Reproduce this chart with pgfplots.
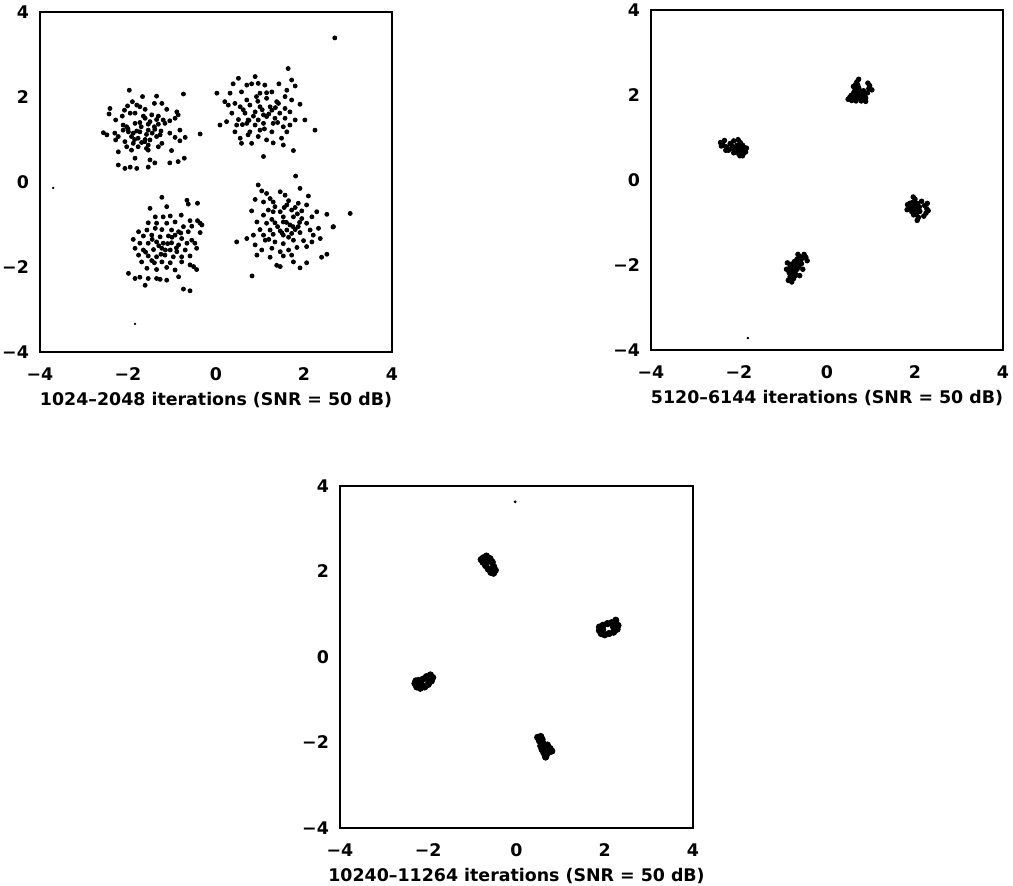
\documentclass[border=0pt]{standalone}
\usepackage{fontspec}
\setmainfont{DejaVu Sans}
\usepackage{pgfplots}
\pgfplotsset{compat=1.18}

\pgfplotsset{
  constel/.style={
    scale only axis, width=176pt, height=170pt,
    xmin=-4, xmax=4, ymin=-4, ymax=4,
    xtick={-4,-2,0,2,4}, ytick={-4,-2,0,2,4},
    xticklabels={−4,−2,0,2,4}, yticklabels={−4,−2,0,2,4},
    major tick length=0pt,
    axis line style={line width=0.9pt},
    font=\fontsize{8.7}{10}\selectfont\bfseries,
    xticklabel style={yshift=-4.5pt},
    yticklabel style={xshift=-2pt},
    xlabel style={at={(axis description cs:0.5,0)}, anchor=north, yshift=-16.5pt},
  },
  dots/.style={only marks, mark=*, black, mark size=1pt},
}

\begin{document}
\begin{tikzpicture}
\path[use as bounding box] (0pt,0pt) rectangle (506.5pt,442.5pt);

% 1024-2048 iterations
\begin{axis}[constel, at={(20pt,266.5pt)}, anchor=south west,
  xlabel={1024–2048 iterations (SNR = 50 dB)}]
\addplot[dots] coordinates {
(-1.97,2.16) (-1.35,2.02) (-0.74,2.07) (-1.67,2.01) (-1.90,1.89) (-1.80,1.81)
(-1.40,1.85) (-1.23,1.85) (-2.01,1.79) (-1.73,1.77) (-2.41,1.73) (-2.08,1.69)
(-1.95,1.62) (-1.61,1.71) (-1.12,1.71) (-0.89,1.65) (-2.43,1.60) (-2.13,1.55)
(-1.84,1.62) (-1.65,1.55) (-1.46,1.58) (-1.31,1.55) (-0.86,1.58) (-2.28,1.46)
(-1.61,1.50) (-1.35,1.47) (-1.20,1.46) (-1.05,1.44) (-0.93,1.50) (-2.11,1.34)
(-2.03,1.30) (-1.84,1.38) (-1.73,1.40) (-1.54,1.36) (-1.31,1.36) (-1.16,1.38)
(-2.56,1.16) (-2.30,1.15) (-2.11,1.22) (-1.99,1.18) (-1.88,1.15) (-1.73,1.18)
(-1.54,1.22) (-1.39,1.24) (-1.27,1.11) (-1.05,1.15) (-0.82,1.22) (-0.36,1.13)
(-2.48,1.11) (-2.22,1.07) (-1.92,1.07) (-1.77,1.03) (-1.61,1.00) (-1.50,0.99)
(-1.35,1.07) (-0.93,1.05) (-0.70,1.05) (-2.28,0.99) (-2.07,0.95) (-1.88,0.91)
(-1.69,0.93) (-1.54,0.87) (-1.23,0.91) (-0.82,0.97) (-2.03,0.83) (-1.77,0.83)
(-1.58,0.79) (-1.31,0.83) (-2.22,0.71) (-1.92,0.75) (-1.54,0.75) (-1.01,0.74)
(-1.84,0.56) (-1.50,0.52) (-1.39,0.45) (-1.05,0.45) (-0.86,0.48) (-0.72,0.56)
(-2.22,0.40) (-2.07,0.32) (-1.95,0.35) (-1.80,0.32) (-1.54,0.35)
(-1.70,1.30) (-1.58,1.12) (-1.45,1.15) (-1.62,0.95) (-1.80,1.20) (-2.00,1.25)
(-1.40,1.30) (-1.50,1.42) (-1.25,1.20) (-1.85,1.00)
};
\addplot[dots] coordinates {
(1.64,2.67) (0.51,2.44) (0.89,2.48) (1.72,2.40) (0.39,2.31) (0.70,2.28)
(0.81,2.31) (0.96,2.32) (1.11,2.28) (1.43,2.31) (1.80,2.26) (0.02,2.09)
(0.32,2.09) (0.58,2.12) (1.00,2.09) (1.15,2.10) (1.27,2.12) (1.61,2.16)
(0.20,1.89) (0.43,1.85) (0.70,1.93) (0.92,2.01) (1.15,1.97) (1.38,1.89)
(1.57,2.01) (1.72,1.93) (1.91,1.83) (0.28,1.81) (0.55,1.77) (0.77,1.81)
(1.00,1.77) (1.23,1.77) (1.42,1.85) (1.57,1.73) (0.36,1.62) (0.66,1.62)
(0.89,1.65) (1.08,1.58) (1.27,1.69) (1.45,1.62) (1.68,1.65) (0.51,1.47)
(0.73,1.46) (0.96,1.46) (1.15,1.54) (1.34,1.50) (1.57,1.50) (1.80,1.46)
(2.02,1.46) (0.09,1.34) (0.24,1.42) (0.47,1.34) (0.70,1.38) (0.89,1.34)
(1.08,1.38) (1.30,1.38) (1.53,1.30) (1.68,1.34) (2.25,1.22) (0.43,1.18)
(0.77,1.18) (1.00,1.22) (1.27,1.18) (1.61,1.18) (0.55,1.03) (0.73,1.11)
(0.96,1.07) (1.15,0.99) (1.49,1.03) (0.58,0.91) (0.81,0.91) (1.30,0.92)
(1.53,0.87) (1.08,0.60) (1.76,0.74)
(0.62,1.70) (0.85,1.55) (1.05,1.70) (1.20,1.60) (0.95,1.90) (1.35,1.75)
(0.75,1.45) (1.10,1.25) (1.40,1.40) (0.60,1.35)
};
\addplot[dots] coordinates {
(-1.23,-0.36) (-0.66,-0.43) (-0.63,-0.52) (-0.42,-0.50) (-1.50,-0.62) (-1.12,-0.58)
(-0.79,-0.78) (-1.38,-0.82) (-1.20,-0.82) (-1.04,-0.80) (-0.59,-0.91) (-0.42,-0.91)
(-0.36,-0.97) (-1.54,-0.96) (-1.35,-0.97) (-1.12,-0.97) (-0.93,-0.94) (-0.74,-1.05)
(-0.55,-1.04) (-0.32,-1.01) (-1.76,-1.17) (-1.57,-1.13) (-1.38,-1.09) (-1.23,-1.12)
(-1.01,-1.13) (-0.85,-1.17) (-0.63,-1.17) (-0.36,-1.19) (-1.88,-1.35) (-1.65,-1.27)
(-1.46,-1.25) (-1.27,-1.29) (-1.08,-1.27) (-0.93,-1.25) (-0.78,-1.33) (-0.55,-1.37)
(-1.73,-1.44) (-1.54,-1.44) (-1.35,-1.41) (-1.20,-1.44) (-1.01,-1.43) (-0.85,-1.48)
(-0.66,-1.44) (-0.48,-1.44) (-1.84,-1.56) (-1.65,-1.60) (-1.42,-1.59) (-1.23,-1.56)
(-1.04,-1.60) (-0.89,-1.64) (-0.70,-1.60) (-0.44,-1.56) (-1.76,-1.72) (-1.54,-1.74)
(-1.35,-1.76) (-1.16,-1.72) (-0.97,-1.76) (-0.78,-1.76) (-0.59,-1.74) (-1.69,-1.88)
(-1.46,-1.85) (-1.23,-1.88) (-1.04,-1.90) (-0.78,-1.88) (-0.59,-1.95) (-1.57,-2.03)
(-1.35,-2.06) (-1.12,-2.01) (-0.93,-2.07) (-0.51,-1.99) (-0.44,-2.06) (-1.99,-2.15)
(-1.84,-2.27) (-1.73,-2.24) (-1.54,-2.27) (-1.35,-2.27) (-1.27,-2.29) (-1.12,-2.31)
(-0.85,-2.23) (-1.61,-2.43) (-0.74,-2.52) (-0.59,-2.56)
(-1.30,-1.50) (-1.15,-1.60) (-1.45,-1.35) (-1.00,-1.30) (-1.25,-1.70) (-0.90,-1.55)
(-1.60,-1.65) (-1.10,-1.45) (-0.80,-1.20) (-1.40,-1.90)
};
\addplot[dots] coordinates {
(1.81,0.14) (0.96,-0.07) (1.91,-0.15) (1.04,-0.21) (1.15,-0.27) (1.46,-0.23)
(1.57,-0.31) (1.23,-0.39) (2.10,-0.33) (0.89,-0.41) (1.08,-0.47) (1.30,-0.47)
(1.65,-0.44) (1.87,-0.50) (1.34,-0.58) (1.61,-0.54) (1.80,-0.60) (2.06,-0.54)
(0.81,-0.68) (1.19,-0.66) (1.46,-0.70) (1.72,-0.66) (1.95,-0.68) (2.29,-0.70)
(2.52,-0.76) (3.05,-0.74) (1.08,-0.78) (1.27,-0.88) (1.53,-0.82) (1.76,-0.82)
(1.95,-0.86) (2.18,-0.82) (0.93,-0.94) (1.15,-0.97) (1.34,-0.96) (1.53,-0.94)
(1.68,-1.01) (1.87,-1.05) (2.06,-0.97) (2.67,-1.05) (1.00,-1.12) (1.23,-1.13)
(1.46,-1.15) (1.61,-1.13) (1.80,-1.12) (2.14,-1.13) (2.33,-1.09) (0.47,-1.41)
(0.70,-1.33) (0.85,-1.25) (1.08,-1.25) (1.30,-1.23) (1.53,-1.25) (1.72,-1.21)
(1.91,-1.19) (2.21,-1.25) (2.37,-1.33) (0.89,-1.48) (1.12,-1.37) (1.34,-1.41)
(1.53,-1.45) (1.76,-1.37) (1.99,-1.38) (2.18,-1.41) (1.04,-1.60) (1.27,-1.56)
(1.46,-1.64) (1.65,-1.60) (1.84,-1.54) (2.06,-1.52) (0.93,-1.72) (1.23,-1.77)
(1.53,-1.74) (1.72,-1.72) (2.52,-1.70) (1.38,-1.96) (1.46,-1.99) (1.76,-1.88)
(2.06,-1.90) (1.91,-2.02) (2.40,-1.77)
(1.40,-1.05) (1.60,-0.95) (1.50,-1.20) (1.75,-1.05) (1.30,-0.70) (1.55,-0.60)
(1.85,-0.75) (1.20,-1.35) (1.65,-1.30) (1.90,-0.95)
};
\addplot[dots] coordinates {(2.70,3.39) (0.82,-2.21) (2.66,-1.06)};
\addplot[only marks, mark=*, black, mark size=0.35pt] coordinates {(-3.70,-0.14) (-1.84,-3.34)};
\end{axis}

% 5120-6144 iterations
\begin{axis}[constel, at={(325.5pt,267.5pt)}, anchor=south west,
  xlabel={5120–6144 iterations (SNR = 50 dB)}]
\addplot[dots, mark size=1.15pt] coordinates {
(0.52,1.95) (0.58,1.93) (0.64,1.92) (0.70,1.93) (0.76,1.92) (0.82,1.94) (0.88,1.93)
(0.55,1.99) (0.61,1.98) (0.67,1.99) (0.73,1.98) (0.79,1.99) (0.85,1.98)
(0.60,2.04) (0.66,2.05) (0.72,2.04) (0.78,2.05) (0.63,2.10) (0.69,2.11) (0.75,2.10)
(0.66,2.17) (0.72,2.17) (0.64,2.24) (0.70,2.23) (0.68,2.31) (0.72,2.37)
(0.92,2.05) (0.95,2.15) (0.97,2.22) (0.93,2.28) (1.02,2.12) (0.56,1.87)
(0.66,1.86) (0.78,1.86) (0.88,1.85) (0.48,1.90) (0.83,2.10) (0.60,2.20)
};
\addplot[dots, mark size=1.15pt] coordinates {
(-2.10,0.70) (-2.04,0.68) (-1.98,0.70) (-1.92,0.69) (-1.86,0.71) (-2.07,0.76)
(-2.01,0.75) (-1.95,0.76) (-1.89,0.77) (-2.04,0.82) (-1.98,0.83) (-1.92,0.82)
(-2.01,0.62) (-1.95,0.62) (-1.89,0.63) (-1.98,0.57) (-1.92,0.57) (-1.83,0.75)
(-2.12,0.64) (-1.97,0.88) (-1.85,0.66)
(-2.42,0.88) (-2.36,0.82) (-2.33,0.93) (-2.28,0.78) (-2.24,0.70) (-2.20,0.86)
(-2.17,0.74) (-2.30,0.70) (-2.15,0.80) (-2.40,0.80) (-2.12,0.92) (-2.02,0.95)
};
\addplot[dots, mark size=1.15pt] coordinates {
(1.88,-0.55) (1.94,-0.53) (2.00,-0.56) (2.06,-0.55) (1.86,-0.62) (1.92,-0.61)
(1.98,-0.62) (2.04,-0.61) (2.10,-0.63) (1.90,-0.68) (1.96,-0.68) (2.02,-0.69)
(2.08,-0.68) (1.93,-0.75) (1.99,-0.75) (2.05,-0.76) (2.11,-0.74) (1.97,-0.82)
(2.03,-0.82) (2.00,-0.45) (1.96,-0.40) (1.83,-0.58) (2.08,-0.88) (2.05,-0.95)
(2.22,-0.60) (2.27,-0.68) (2.25,-0.78) (2.30,-0.72) (2.20,-0.85) (2.28,-0.55)
(1.82,-0.70) (2.15,-0.50)
};
\addplot[dots, mark size=1.15pt] coordinates {
(-0.62,-1.80) (-0.56,-1.84) (-0.68,-1.86) (-0.60,-1.90) (-0.74,-1.92) (-0.66,-1.95)
(-0.58,-1.97) (-0.80,-1.98) (-0.72,-2.00) (-0.64,-2.03) (-0.84,-2.05) (-0.76,-2.07)
(-0.68,-2.10) (-0.80,-2.13) (-0.72,-2.15) (-0.86,-2.18) (-0.78,-2.22) (-0.70,-2.24)
(-0.84,-2.28) (-0.76,-2.32) (-0.88,-2.36) (-0.80,-2.40) (-0.52,-1.75) (-0.48,-1.82)
(-0.45,-1.90) (-0.62,-2.25) (-0.92,-2.10) (-0.90,-1.95) (-0.55,-2.10) (-0.66,-1.75)
};
\addplot[only marks, mark=*, black, mark size=0.4pt] coordinates {(-1.80,-3.72)};
\end{axis}

% 10240-11264 iterations
\begin{axis}[constel, at={(170pt,28.5pt)}, anchor=south west,
  width=176.5pt, height=171pt,
  xlabel={10240–11264 iterations (SNR = 50 dB)}]
\addplot[dots, mark size=1.6pt] coordinates {
(-0.75,2.32) (-0.68,2.36) (-0.60,2.30) (-0.55,2.22) (-0.52,2.12) (-0.48,2.03)
(-0.52,1.96) (-0.58,1.98) (-0.64,2.06) (-0.70,2.14) (-0.76,2.22) (-0.80,2.28)
(-0.62,2.25) (-0.56,2.05) (-0.66,2.30)
};
\addplot[dots, mark size=1.6pt] coordinates {
(1.88,0.62) (1.92,0.55) (2.00,0.52) (2.10,0.55) (2.20,0.58) (2.28,0.65)
(2.30,0.74) (2.24,0.82) (2.15,0.80) (2.06,0.78) (1.96,0.74) (1.88,0.70)
(1.95,0.64) (2.20,0.70) (2.25,0.86)
};
\addplot[dots, mark size=1.6pt] coordinates {
(-2.30,-0.62) (-2.26,-0.70) (-2.18,-0.73) (-2.08,-0.70) (-2.00,-0.64) (-1.93,-0.56)
(-1.90,-0.48) (-1.95,-0.42) (-2.04,-0.46) (-2.12,-0.52) (-2.22,-0.55) (-2.28,-0.56)
(-2.15,-0.66) (-1.98,-0.52)
};
\addplot[dots, mark size=1.6pt] coordinates {
(0.48,-1.88) (0.55,-1.86) (0.58,-1.93) (0.52,-1.96) (0.60,-2.02) (0.55,-2.08)
(0.58,-2.16) (0.62,-2.24) (0.68,-2.28) (0.74,-2.22) (0.76,-2.14) (0.70,-2.06)
(0.64,-2.10) (0.66,-2.34) (0.80,-2.20)
};
\addplot[only marks, mark=*, black, mark size=0.5pt] coordinates {(-0.03,3.63)};
\end{axis}
\end{tikzpicture}
\end{document}
